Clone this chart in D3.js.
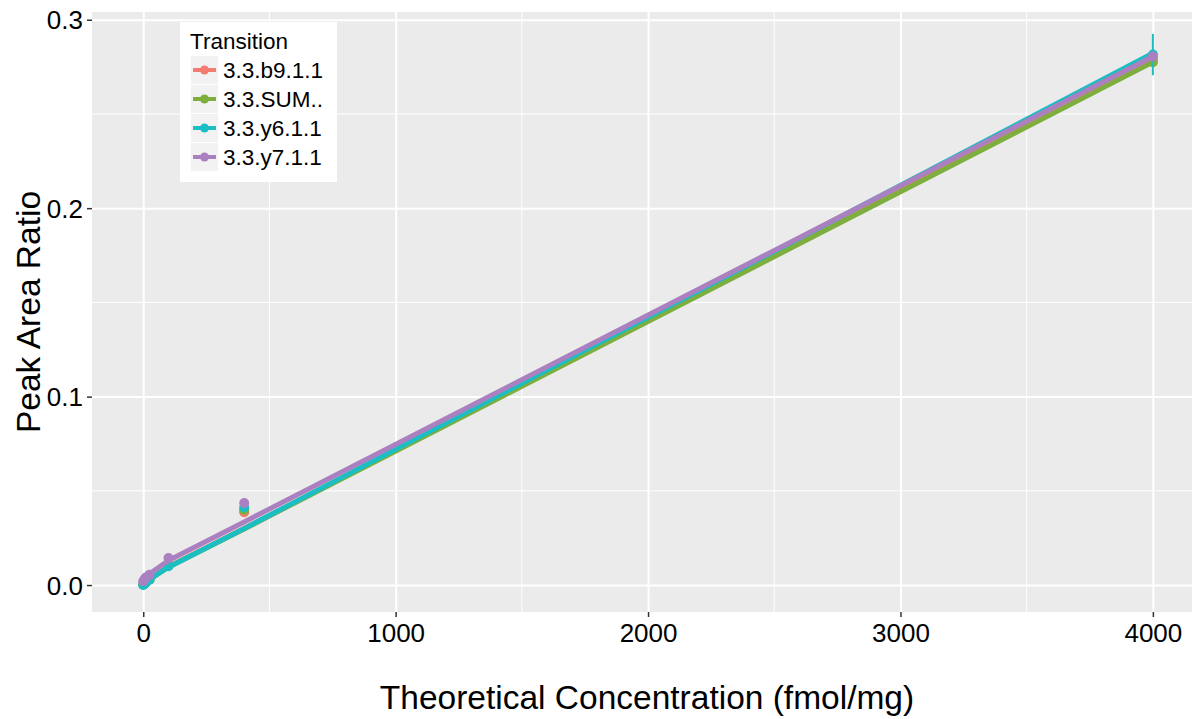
<!DOCTYPE html>
<html>
<head>
<meta charset="utf-8">
<script src="https://cdn.jsdelivr.net/npm/d3@7"></script>
<style>
  body { margin: 0; background: #fff; }
  svg text { font-family: "Liberation Sans", Arial, sans-serif; }
</style>
</head>
<body>
<svg id="chart"></svg>
<script>
let width = 1195, height = 719;
let panel = {left: 92, right: 1192, top: 12, bottom: 612};

// data
let transitions = ["3.3.b9.1.1", "3.3.SUM..", "3.3.y6.1.1", "3.3.y7.1.1"];
let colors = ["#f47b6f", "#7dae3e", "#1bbec3", "#ab80c0"];
let concentrations = [0, 5, 10, 25, 100, 400, 4000];

let b9_means  = [0.0003, 0.0008, 0.0015, 0.0030, 0.0105, 0.0387, 0.2790];
let sum_means = [0.0003, 0.0008, 0.0015, 0.0030, 0.0107, 0.0399, 0.2775];
let y6_means  = [0.0000, 0.0006, 0.0012, 0.0028, 0.0100, 0.0412, 0.2815];
let y7_means  = [0.0020, 0.0030, 0.0040, 0.0055, 0.0143, 0.0435, 0.2805];

let b9_sd  = [0, 0, 0, 0, 0.0002, 0.0004, 0.0015];
let sum_sd = [0, 0, 0, 0, 0.0002, 0.0004, 0.0012];
let y6_sd  = [0, 0, 0, 0, 0.0003, 0.0005, 0.0110];
let y7_sd  = [0, 0, 0, 0, 0.0002, 0.0004, 0.0025];

// fitted values at each concentration (lines)
let b9_fit  = [0.0002, 0.0006, 0.0012, 0.0030, 0.0097, 0.0300, 0.2790];
let sum_fit = [0.0002, 0.0006, 0.0012, 0.0030, 0.0096, 0.0298, 0.2775];
let y6_fit  = [0.0002, 0.0006, 0.0012, 0.0030, 0.0095, 0.0300, 0.2822];
let y7_fit  = [0.0025, 0.0030, 0.0040, 0.0060, 0.0130, 0.0335, 0.2805];

let x_ticks = [0, 1000, 2000, 3000, 4000];
let x_minor = [500, 1500, 2500, 3500];
let y_ticks = [0, 0.1, 0.2, 0.3];
let y_minor = [0.05, 0.15, 0.25];

let means = [b9_means, sum_means, y6_means, y7_means];
let sds = [b9_sd, sum_sd, y6_sd, y7_sd];
let fits = [b9_fit, sum_fit, y6_fit, y7_fit];

let series = transitions.map((t, i) => ({
    name: t,
    color: colors[i],
    points: concentrations.map((c, j) => ({conc: c, mean: means[i][j], sd: sds[i][j], fit: fits[i][j]}))
}));

let svg = d3.select("#chart")
    .attr("width", width)
    .attr("height", height);

let x = d3.scaleLinear().domain([-203, 4155]).range([panel.left, panel.right]);
let y = d3.scaleLinear().domain([-0.0143, 0.3041]).range([panel.bottom, panel.top]);

// panel background
svg.append("rect")
    .attr("x", panel.left).attr("y", panel.top)
    .attr("width", panel.right - panel.left)
    .attr("height", panel.bottom - panel.top)
    .style("fill", "#ebebeb");

// minor grid
svg.append("g").selectAll("line").data(x_minor).enter().append("line")
    .attr("x1", d => x(d)).attr("x2", d => x(d))
    .attr("y1", panel.top).attr("y2", panel.bottom)
    .style("stroke", "#fff").style("stroke-width", 1);
svg.append("g").selectAll("line").data(y_minor).enter().append("line")
    .attr("y1", d => y(d)).attr("y2", d => y(d))
    .attr("x1", panel.left).attr("x2", panel.right)
    .style("stroke", "#fff").style("stroke-width", 1);

// major grid
let x_axis = svg.append("g")
    .attr("transform", `translate(0,${panel.bottom})`)
    .call(d3.axisBottom(x).tickValues(x_ticks).tickSize(0).tickPadding(0).tickFormat(d3.format("d")));
let y_axis = svg.append("g")
    .attr("transform", `translate(${panel.left},0)`)
    .call(d3.axisLeft(y).tickValues(y_ticks).tickSize(0).tickFormat(d3.format(".1f")));
x_axis.select(".domain").remove();
y_axis.select(".domain").remove();

x_axis.selectAll(".tick").append("line")
    .attr("y1", 0).attr("y2", -(panel.bottom - panel.top))
    .style("stroke", "#fff").style("stroke-width", 2);
x_axis.selectAll(".tick").append("line")
    .attr("y1", 0).attr("y2", 5)
    .style("stroke", "#333").style("stroke-width", 1.5);
x_axis.selectAll("text")
    .attr("y", 12).attr("dy", "0.71em")
    .style("font-size", "26px").style("fill", "#000");

y_axis.selectAll(".tick").append("line")
    .attr("x1", 0).attr("x2", panel.right - panel.left)
    .style("stroke", "#fff").style("stroke-width", 2);
y_axis.selectAll(".tick").append("line")
    .attr("x1", 0).attr("x2", -5)
    .style("stroke", "#333").style("stroke-width", 1.5);
y_axis.selectAll("text")
    .attr("x", -9).attr("dy", "0.35em")
    .style("font-size", "26px").style("fill", "#000");

// fitted lines
let line = d3.line().x(d => x(d.conc)).y(d => y(d.fit));

let groups = svg.append("g").selectAll("g").data(series).enter().append("g");

groups.append("path")
    .attr("d", d => line(d.points))
    .style("fill", "none")
    .style("stroke", d => d.color)
    .style("stroke-width", 5)
    .style("stroke-linejoin", "round");

// error bars
groups.selectAll(".err").data(d => d.points.map(p => Object.assign({color: d.color}, p)))
    .enter().append("line")
    .attr("class", "err")
    .attr("x1", d => x(d.conc)).attr("x2", d => x(d.conc))
    .attr("y1", d => y(d.mean - d.sd)).attr("y2", d => y(d.mean + d.sd))
    .style("stroke", d => d.color)
    .style("stroke-width", 2);

// points
groups.selectAll(".dot").data(d => d.points.map(p => Object.assign({color: d.color}, p)))
    .enter().append("circle")
    .attr("class", "dot")
    .attr("cx", d => x(d.conc))
    .attr("cy", d => y(d.mean))
    .attr("r", 5)
    .style("fill", d => d.color);

// axis titles
svg.append("text")
    .attr("x", (panel.left + panel.right) / 2 + 5)
    .attr("y", 709)
    .style("text-anchor", "middle")
    .style("font-size", "33.5px")
    .text("Theoretical Concentration (fmol/mg)");

svg.append("text")
    .attr("transform", `translate(40,${(panel.top + panel.bottom) / 2}) rotate(-90)`)
    .style("text-anchor", "middle")
    .style("font-size", "33.5px")
    .text("Peak Area Ratio");

// legend
let legend = svg.append("g").attr("transform", "translate(180,22)");
legend.append("rect")
    .attr("width", 157).attr("height", 160)
    .style("fill", "#fff");
legend.append("text")
    .attr("x", 10).attr("y", 27)
    .style("font-size", "22.5px")
    .text("Transition");

let items = legend.selectAll(".item").data(series).enter().append("g")
    .attr("class", "item")
    .attr("transform", (d, i) => `translate(11,${34 + i * 29})`);
items.append("rect")
    .attr("width", 27).attr("height", 28)
    .style("fill", "#f2f2f2");
items.append("line")
    .attr("x1", 2).attr("x2", 25).attr("y1", 14).attr("y2", 14)
    .style("stroke", d => d.color).style("stroke-width", 4);
items.append("circle")
    .attr("cx", 13.5).attr("cy", 14).attr("r", 4.5)
    .style("fill", d => d.color);
items.append("text")
    .attr("x", 32).attr("y", 14).attr("dy", "0.36em")
    .style("font-size", "22.5px")
    .text(d => d.name);
</script>
</body>
</html>
